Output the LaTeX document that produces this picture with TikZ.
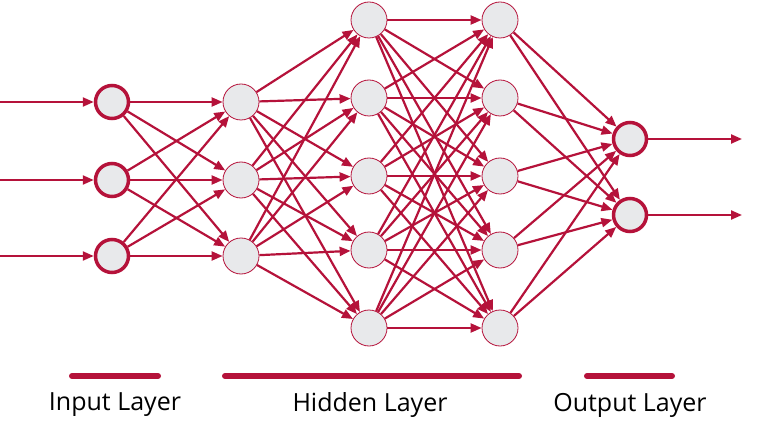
\documentclass[tikz,border=0pt]{standalone}
\usepackage{fontspec}
\setmainfont{Open Sans}
\usetikzlibrary{arrows.meta}
\definecolor{netred}{HTML}{B5123A}
\definecolor{netgray}{HTML}{E8E9EB}
\tikzstyle{neu}=[draw=netred, fill=netgray, shape=circle, minimum size=36pt, inner sep=0pt, line width=0.8pt]
\tikzstyle{io}=[neu, line width=3.5pt, minimum size=33pt]
\tikzstyle{syn}=[draw=netred, line width=2.2pt, -{Triangle[length=11pt,width=9pt]}]
\tikzstyle{bar}=[draw=netred, line width=6pt, line cap=round]
\begin{document}
\begin{tikzpicture}[x=1pt, y=-1pt]
\useasboundingbox (0,0) rectangle (759,446);
% input layer
\node[io] (I1) at (112,102) {};
\node[io] (I2) at (112,180) {};
\node[io] (I3) at (112,256) {};
% first hidden layer
\node[neu] (A1) at (241,102) {};
\node[neu] (A2) at (241,180) {};
\node[neu] (A3) at (241,256) {};
% second and third hidden layers
\foreach \i/\y in {1/20, 2/98, 3/176, 4/250, 5/328} {
  \node[neu] (B\i) at (369,\y) {};
  \node[neu] (C\i) at (500,\y) {};
}
% output layer
\node[io] (O1) at (630,139) {};
\node[io] (O2) at (630,215) {};
% free ends
\coordinate (in1) at (0,102);
\coordinate (in2) at (0,180);
\coordinate (in3) at (0,256);
\coordinate (out1) at (742,139);
\coordinate (out2) at (742,215);
% the edges
\foreach \i in {1,2,3} \draw[syn] (in\i) -- (I\i);
\foreach \i in {1,2,3} \foreach \j in {1,2,3} \draw[syn] (I\i) -- (A\j);
\foreach \i in {1,2,3} \foreach \j in {1,...,5} \draw[syn] (A\i) -- (B\j);
\foreach \i in {1,...,5} \foreach \j in {1,...,5} \draw[syn] (B\i) -- (C\j);
\foreach \i in {1,...,5} \foreach \j in {1,2} \draw[syn] (C\i) -- (O\j);
\foreach \i in {1,2} \draw[syn] (O\i) -- (out\i);
% the layer bars and labels
\draw[bar] (72,376) -- (158,376);
\draw[bar] (225,376) -- (519,376);
\draw[bar] (587,376) -- (672,376);
\node[font=\fontsize{25}{30}\selectfont\addfontfeature{FakeBold=0}] (lin) at (115,405) {Input Layer};
\node[font=\fontsize{25}{30}\selectfont] (lhid) at (370,405) {Hidden Layer};
\node[font=\fontsize{25}{30}\selectfont] (lout) at (630,405) {Output Layer};
\end{tikzpicture}
\end{document}
